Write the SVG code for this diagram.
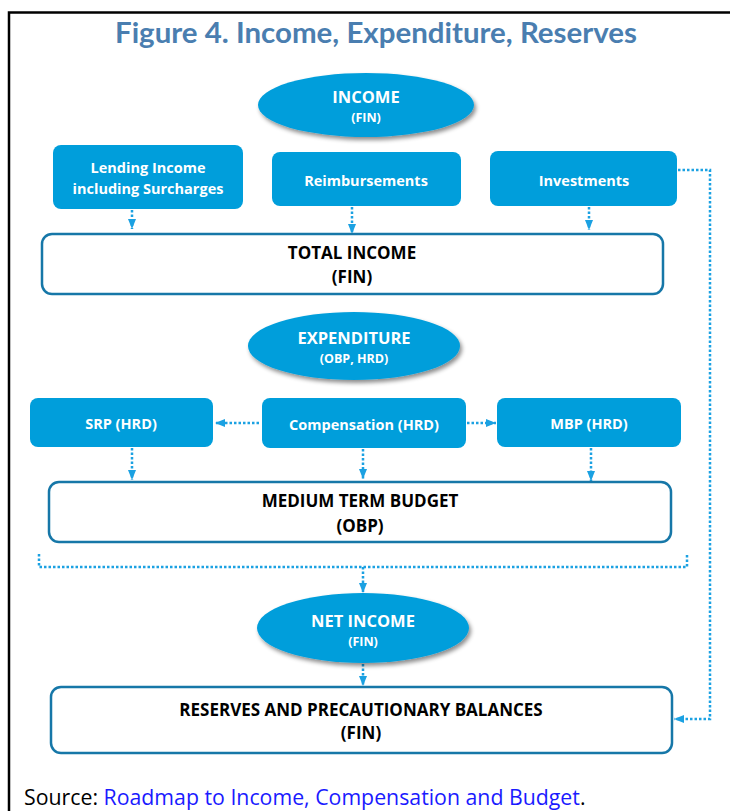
<svg xmlns="http://www.w3.org/2000/svg" width="730" height="811" viewBox="0 0 730 811">
<defs>
<style>
.bx{fill:#009EDB;}
.wb{fill:#ffffff;stroke:#1677A8;stroke-width:2.5;}
.el{fill:#009EDB;filter:url(#sh);}
.t{font-family:"Open Sans","DejaVu Sans",sans-serif;font-weight:bold;text-anchor:middle;}
.w{fill:#ffffff;}
.k{fill:#000000;}
.c{fill:none;stroke:#1BA1E2;stroke-width:2.5;stroke-dasharray:2.5 2;}
.a{marker-end:url(#ah);}
</style>
<marker id="ah" markerUnits="userSpaceOnUse" markerWidth="10" markerHeight="10" viewBox="0 0 10 10" refX="10" refY="5" orient="auto">
<path d="M0,1 L10,5 L0,9 Z" fill="#1BA1E2"/>
</marker>
<filter id="sh" x="-20%" y="-30%" width="150%" height="170%">
<feDropShadow dx="2" dy="3" stdDeviation="2" flood-color="#000000" flood-opacity="0.45"/>
</filter>
</defs>
<rect x="0" y="0" width="730" height="811" fill="#ffffff"/>
<rect x="9" y="12.5" width="740" height="820" fill="none" stroke="#000000" stroke-width="2.5"/>
<text x="376" y="43" font-family="Lato,'Open Sans',sans-serif" font-weight="bold" font-size="29" fill="#4A7EB0" text-anchor="middle" textLength="522" lengthAdjust="spacingAndGlyphs">Figure 4. Income, Expenditure, Reserves</text>

<g id="connectors">
<path class="c a" d="M132 210 V229"/>
<path class="c a" d="M352 207 V234"/>
<path class="c a" d="M589 207 V230"/>
<path class="c a" d="M678 170 H710 V719 H674"/>
<path class="c a" d="M259 423 H215"/>
<path class="c a" d="M467 423 H496"/>
<path class="c a" d="M132 448 V480"/>
<path class="c a" d="M363 449 V479"/>
<path class="c a" d="M591 448 V481"/>
<path class="c" d="M39 554 V567 H687 V554"/>
<path class="c a" d="M363 567 V593"/>
<path class="c a" d="M363 664 V686"/>
</g>

<g id="income">
<ellipse class="el" cx="366" cy="105" rx="108" ry="32"/>
<text class="t w" x="366" y="103" font-size="16.5">INCOME</text>
<text class="t w" x="366" y="122" font-size="12.5">(FIN)</text>
</g>
<g id="lending">
<rect class="bx" x="53" y="145" width="190" height="64" rx="8"/>
<text class="t w" x="148" y="173" font-size="14.5">Lending Income</text>
<text class="t w" x="148" y="194" font-size="14.5">including Surcharges</text>
</g>
<g id="reimbursements">
<rect class="bx" x="272" y="152" width="189" height="54" rx="8"/>
<text class="t w" x="366" y="186" font-size="14.5">Reimbursements</text>
</g>
<g id="investments">
<rect class="bx" x="490" y="151" width="187" height="55" rx="8"/>
<text class="t w" x="584" y="186" font-size="14.5">Investments</text>
</g>
<g id="total-income">
<rect class="wb" x="42" y="234" width="621" height="60" rx="10"/>
<text class="t k" x="352" y="259" font-size="17">TOTAL INCOME</text>
<text class="t k" x="352" y="283" font-size="17">(FIN)</text>
</g>

<g id="expenditure">
<ellipse class="el" cx="354" cy="346" rx="106" ry="34"/>
<text class="t w" x="354" y="344" font-size="16.5">EXPENDITURE</text>
<text class="t w" x="354" y="363" font-size="12.5">(OBP, HRD)</text>
</g>
<g id="srp">
<rect class="bx" x="30" y="398" width="183" height="49" rx="8"/>
<text class="t w" x="121" y="429" font-size="14.5">SRP (HRD)</text>
</g>
<g id="compensation">
<rect class="bx" x="262" y="398" width="204" height="50" rx="8"/>
<text class="t w" x="364" y="430" font-size="14.5">Compensation (HRD)</text>
</g>
<g id="mbp">
<rect class="bx" x="497" y="398" width="184" height="49" rx="8"/>
<text class="t w" x="589" y="429" font-size="14.5">MBP (HRD)</text>
</g>
<g id="medium-term-budget">
<rect class="wb" x="49" y="482" width="622" height="60" rx="10"/>
<text class="t k" x="360" y="507" font-size="17">MEDIUM TERM BUDGET</text>
<text class="t k" x="360" y="532" font-size="17">(OBP)</text>
</g>

<g id="net-income">
<ellipse class="el" cx="363" cy="628" rx="106" ry="35"/>
<text class="t w" x="363" y="627" font-size="16.5">NET INCOME</text>
<text class="t w" x="363" y="646" font-size="12.5">(FIN)</text>
</g>
<g id="reserves">
<rect class="wb" x="51" y="687" width="621" height="66" rx="10"/>
<text class="t k" x="361" y="716" font-size="17">RESERVES AND PRECAUTIONARY BALANCES</text>
<text class="t k" x="361" y="739" font-size="17">(FIN)</text>
</g>

<text x="24" y="805" font-family="'Open Sans','DejaVu Sans',sans-serif" font-size="21.3" fill="#000000">Source: <tspan fill="#1A1AFF">Roadmap to Income, Compensation and Budget</tspan>.</text>
</svg>
